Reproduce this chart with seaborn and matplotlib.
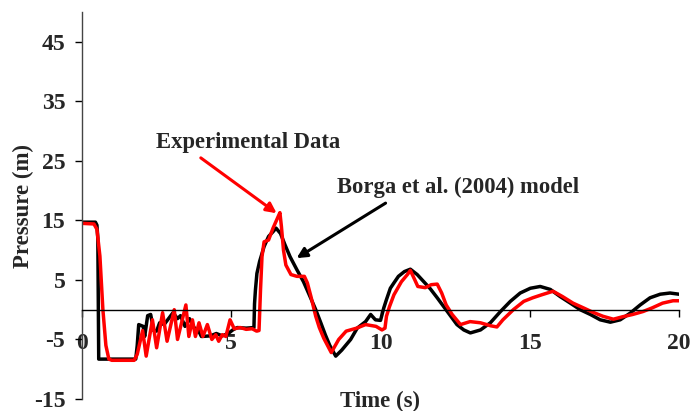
import matplotlib
matplotlib.use("Agg")
import matplotlib.pyplot as plt
import seaborn as sns
import pandas as pd

# ---- data ----
model_t = [0, 0.45, 0.5, 0.53, 0.56, 1.8, 1.85, 1.9, 2.05, 2.1, 2.2, 2.3, 2.4, 2.5, 2.6,
           2.75, 2.9, 3.05, 3.2, 3.3, 3.45, 3.6, 3.75, 3.9, 4.0, 4.3, 4.5, 4.7, 4.9, 5.05,
           5.2, 5.5, 5.76, 5.78, 5.81, 5.86, 5.95, 6.1, 6.25, 6.4, 6.5, 6.65, 6.8, 6.97,
           7.2, 7.42, 7.64, 7.83, 8.0, 8.15, 8.3, 8.5, 8.7, 9.0, 9.22, 9.5, 9.67, 9.83,
           10.0, 10.11, 10.2, 10.33, 10.45, 10.6, 10.8, 11.0, 11.23, 11.45, 11.67, 11.9,
           12.12, 12.34, 12.56, 12.79, 13.01, 13.35, 13.68, 14.02, 14.35, 14.68, 15.02,
           15.35, 15.69, 16.02, 16.36, 16.69, 17.03, 17.36, 17.7, 18.03, 18.36, 18.7,
           19.03, 19.37, 19.7, 20.0]
model_p = [14.7, 14.7, 14.2, 12.0, -8.3, -8.3, -6.0, -2.5, -2.8, -4.5, -1.0, -0.8, -3.5, -3.6, -2.2,
           -2.5, -1.5, -0.5, -1.5, -1.0, -2.8, -1.5, -3.0, -3.5, -4.5, -4.4, -4.0, -4.4, -4.0, -3.4,
           -3.0, -3.1, -3.0, 1.0, 3.3, 6.1, 8.1, 10.6, 12.3, 13.1, 13.7, 12.8, 10.9, 8.9,
           6.7, 4.7, 2.2, 0.0, -2.2, -4.2, -6.0, -7.8, -6.8, -5.0, -3.1, -2.0, -0.8, -1.7,
           -1.8, 0.3, 1.7, 3.6, 4.5, 5.6, 6.4, 6.8, 5.9, 4.7, 3.5, 2.0,
           0.5, -1.0, -2.5, -3.4, -3.9, -3.4, -2.2, -0.3, 1.4, 2.8, 3.6,
           3.9, 3.4, 2.2, 1.1, 0.0, -0.8, -1.7, -2.1, -1.7, -0.6, 0.8,
           2.0, 2.6, 2.8, 2.6]

exp_t = [0, 0.4, 0.5, 0.6, 0.7, 0.8, 0.9, 1.0, 1.75, 1.85, 2.03, 2.15, 2.36, 2.5, 2.7, 2.85,
         3.09, 3.2, 3.48, 3.58, 3.7, 3.8, 3.92, 4.05, 4.2, 4.35, 4.48, 4.58, 4.7, 4.82, 4.96,
         5.1, 5.3, 5.5, 5.7, 5.85, 5.93, 5.98, 6.03, 6.1, 6.25, 6.4, 6.55, 6.63, 6.68, 6.75,
         6.83, 7.0, 7.2, 7.45, 7.55, 7.67, 7.83, 7.95, 8.1, 8.35, 8.6, 8.85, 9.2, 9.5, 9.85,
         10.05, 10.15, 10.2, 10.3, 10.45, 10.7, 10.9, 11.0, 11.15, 11.25, 11.5, 11.7, 11.9,
         12.05, 12.2, 12.4, 12.68, 13.0, 13.35, 13.69, 13.9, 14.1, 14.45, 14.8, 15.1, 15.4,
         15.78, 16.1, 16.45, 16.8, 17.1, 17.45, 17.8, 18.1, 18.45, 18.8, 19.1, 19.45, 19.8, 20.0]
exp_p = [14.5, 14.4, 13.5, 9.0, 0.0, -6.0, -8.3, -8.5, -8.5, -7.5, -3.5, -7.8, -1.7, -6.4, -0.5, -5.3,
         0.0, -5.0, 0.8, -4.5, -1.7, -4.5, -2.2, -4.5, -2.5, -5.0, -4.2, -5.3, -4.2, -4.5, -1.7,
         -3.2, -3.0, -3.3, -3.2, -3.6, -3.5, 3.3, 8.9, 11.4, 11.7, 13.7, 15.4, 16.3, 14.0, 10.0,
         7.5, 5.9, 5.6, 5.6, 4.5, 2.2, -1.1, -3.0, -4.8, -7.2, -5.0, -3.6, -3.1, -2.5, -2.8,
         -3.4, -3.1, -1.1, 0.5, 2.5, 4.7, 5.9, 6.6, 5.0, 3.9, 3.7, 4.2, 4.3,
         2.8, 0.8, -0.8, -2.5, -2.0, -2.2, -2.7, -2.9, -1.7, 0.0, 1.4, 2.0, 2.5,
         3.1, 2.2, 1.1, 0.3, -0.4, -1.1, -1.6, -1.2, -0.8, -0.3, 0.3, 1.1, 1.5, 1.5]

x_ticks = [0, 5, 10, 15, 20]
y_ticks = [-15, -5, 5, 15, 25, 35, 45]

sns.set_theme(style="white")
plt.rcParams['font.family'] = ['Liberation Serif', 'DejaVu Serif']
plt.rcParams['font.weight'] = 'bold'

fig = plt.figure(figsize=(6.92, 4.11), dpi=100)
ax = fig.add_axes([82/692, 1-399/411, (679-82)/692, (399-12)/411])

df_m = pd.DataFrame({"t": model_t, "p": model_p})
df_e = pd.DataFrame({"t": exp_t, "p": exp_p})
sns.lineplot(data=df_m, x="t", y="p", sort=False, color="black", lw=2.5, ax=ax)
sns.lineplot(data=df_e, x="t", y="p", sort=False, color="#ff0000", lw=2.5, ax=ax)

ax.set_xlim(0, 20)
ax.set_ylim(-15, 50)
ax.set_xticks(x_ticks)
ax.set_yticks(y_ticks)
ax.set_xticklabels([str(v) for v in x_ticks])
ax.set_yticklabels([str(v) for v in y_ticks])

for s in ['top', 'right']:
    ax.spines[s].set_visible(False)
ax.spines['bottom'].set_position(('data', 0))
ax.spines['bottom'].set_color('black')
ax.spines['bottom'].set_linewidth(1.0)
ax.spines['left'].set_color('#444444')
ax.spines['left'].set_linewidth(1.0)

ax.tick_params(axis='both', which='both', direction='out', length=5, width=1,
               color='black', labelsize=17, bottom=True, left=True)
ax.tick_params(axis='x', pad=12)
ax.tick_params(axis='y', pad=7)
for lab in ax.get_xticklabels() + ax.get_yticklabels():
    lab.set_fontweight('bold')

ax.set_xlabel("Time (s)", fontsize=16.5, fontweight='bold')
ax.set_ylabel("Pressure (m)", fontsize=16.5, fontweight='bold')
ax.xaxis.set_label_coords(0.5, 0.022)
ax.yaxis.set_label_coords(-0.08, 0.499)

ax.text(5.58, 28.0, "Experimental Data", fontsize=16.3, fontweight='bold',
        ha='center', va='center')
ax.annotate("", xy=(6.52, 16.2), xytext=(3.98, 25.5),
            arrowprops=dict(arrowstyle='-|>', color='#ff0000', lw=2.2,
                            mutation_scale=15, shrinkA=0, shrinkB=0))
ax.text(12.6, 20.6, "Borga et al. (2004) model", fontsize=16.3, fontweight='bold',
        ha='center', va='center')
ax.annotate("", xy=(7.19, 8.66), xytext=(10.17, 17.9),
            arrowprops=dict(arrowstyle='-|>', color='black', lw=2.2,
                            mutation_scale=15, shrinkA=0, shrinkB=0))

fig.savefig("out.png", dpi=100)
